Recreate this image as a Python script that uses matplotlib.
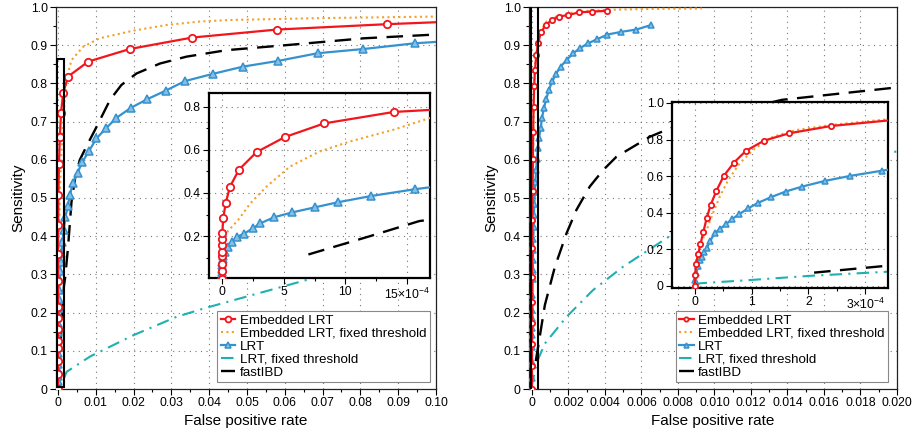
import matplotlib
matplotlib.use('Agg')
import matplotlib.pyplot as plt
from matplotlib.patches import Rectangle
from matplotlib.ticker import MultipleLocator, FixedLocator, FixedFormatter

plt.rcParams['font.family'] = ['Liberation Sans', 'DejaVu Sans']
plt.rcParams['mathtext.fontset'] = 'custom'
plt.rcParams['mathtext.rm'] = 'Liberation Sans'
plt.rcParams['mathtext.it'] = 'Liberation Sans:italic'

# ---------------- left panel data (false positive rate, sensitivity)
emb_x_a = [0, 0, 0, 0, 0.0000005, 0.000001, 0.000002, 0.000003, 0.00001, 0.00003, 0.000065,
           0.000138, 0.00028, 0.00051, 0.000827, 0.00139, 0.0027, 0.008, 0.019, 0.0355,
           0.058, 0.087, 0.12]
emb_y_a = [0, 0.04, 0.073, 0.108, 0.125, 0.158, 0.185, 0.214, 0.282, 0.353, 0.429,
           0.508, 0.589, 0.659, 0.722, 0.775, 0.818, 0.857, 0.890, 0.920,
           0.941, 0.955, 0.968]

fix_x_a = [0, 0.0000006, 0.0000024, 0.0000065, 0.00013, 0.00023, 0.00036, 0.00055,
           0.00079, 0.00104, 0.00139, 0.0017, 0.0023, 0.0036, 0.0067, 0.011, 0.0199,
           0.0288, 0.0376, 0.0455, 0.07, 0.1]
fix_y_a = [0, 0.04, 0.12, 0.197, 0.274, 0.352, 0.429, 0.522, 0.592, 0.639, 0.693, 0.750,
           0.813, 0.861, 0.896, 0.918, 0.938, 0.953, 0.962, 0.966, 0.971, 0.975]

lrt_x_a = [0, 0, 0.0000003, 0.0000006, 0.000001, 0.000002, 0.000004, 0.000007, 0.000012,
           0.000024, 0.000051, 0.000079, 0.000124, 0.00018, 0.00025, 0.00031, 0.00042,
           0.00057, 0.00075, 0.00094, 0.00121, 0.00156, 0.0020, 0.0026, 0.0032, 0.0039,
           0.0052, 0.0065, 0.0083, 0.0102, 0.0127, 0.0155, 0.0193, 0.0235, 0.0285, 0.0336,
           0.041, 0.049, 0.0583, 0.0687, 0.0808, 0.0944, 0.11]
lrt_y_a = [0, 0.01, 0.02, 0.035, 0.05, 0.065, 0.08, 0.095, 0.11,
           0.127, 0.150, 0.173, 0.197, 0.212, 0.236, 0.259, 0.287,
           0.310, 0.333, 0.357, 0.386, 0.417, 0.45, 0.479, 0.508, 0.538,
           0.566, 0.595, 0.624, 0.656, 0.682, 0.710, 0.736, 0.758, 0.781, 0.806,
           0.825, 0.844, 0.859, 0.879, 0.890, 0.905, 0.915]

tf_x_a = [0.0017, 0.0023, 0.0085, 0.02, 0.0314, 0.039, 0.0667, 0.1]
tf_y_a = [0.03, 0.045, 0.085, 0.141, 0.189, 0.212, 0.288, 0.365]

ibd_x_a = [0.0007, 0.0012, 0.0016, 0.0019, 0.0027, 0.0036, 0.0046, 0.0058, 0.0078, 0.0098,
           0.0138, 0.0168, 0.0208, 0.027, 0.034, 0.0446, 0.0614, 0.0808, 0.1]
ibd_y_a = [0.115, 0.20, 0.27, 0.29, 0.373, 0.49, 0.555, 0.60, 0.64, 0.678,
           0.757, 0.796, 0.826, 0.852, 0.870, 0.887, 0.901, 0.918, 0.928]

# ---------------- right panel data
emb_x_b = [0, 0.000001, 0.000002, 0.000006, 0.00001, 0.000015, 0.000021, 0.000028, 0.000038,
           0.000051, 0.000069, 0.00009, 0.000122, 0.000166, 0.00024, 0.00035, 0.00049,
           0.00077, 0.00108, 0.00149, 0.00199, 0.00259, 0.0033, 0.00414]
emb_y_b = [0, 0.06, 0.119, 0.173, 0.228, 0.293, 0.37, 0.443, 0.519,
           0.601, 0.674, 0.738, 0.794, 0.834, 0.874, 0.907, 0.934,
           0.953, 0.966, 0.975, 0.979, 0.986, 0.988, 0.990]

fix_x_b = [0, 0.000003, 0.000009, 0.000021, 0.000032, 0.000044, 0.000059, 0.000079, 0.000106,
           0.000138, 0.000179, 0.00024, 0.00034, 0.0005, 0.0008, 0.0012, 0.002, 0.003,
           0.0045, 0.0065, 0.0093]
fix_y_b = [0, 0.105, 0.215, 0.306, 0.397, 0.488, 0.579, 0.670, 0.752,
           0.816, 0.852, 0.880, 0.911, 0.94, 0.962, 0.973, 0.984, 0.99,
           0.993, 0.995, 0.996]

lrt_x_b = [0, 0.000001, 0.000003, 0.000006, 0.000009, 0.000012, 0.000016, 0.000021, 0.000027,
           0.000035, 0.000044, 0.000055, 0.000065, 0.000078, 0.000094, 0.000112, 0.000134,
           0.00016, 0.000189, 0.000229, 0.000273, 0.00033, 0.00038, 0.00048, 0.00055,
           0.00066, 0.00078, 0.00093, 0.00111, 0.00131, 0.00157, 0.0019, 0.00226, 0.00266,
           0.00308, 0.00354, 0.00414, 0.0049, 0.00572, 0.00654]
lrt_y_b = [0, 0.03, 0.07, 0.11, 0.142, 0.16, 0.185, 0.206, 0.245,
           0.288, 0.311, 0.337, 0.364, 0.392, 0.424, 0.455, 0.485,
           0.516, 0.543, 0.574, 0.601, 0.630, 0.656, 0.682, 0.709,
           0.736, 0.758, 0.783, 0.805, 0.824, 0.844, 0.861, 0.879, 0.893,
           0.905, 0.915, 0.928, 0.935, 0.941, 0.953]

tf_x_b = [0, 0.00001, 0.0001, 0.0002, 0.00034, 0.00071, 0.0019, 0.00335, 0.00499, 0.00681,
          0.0077, 0.0100, 0.0130, 0.0160, 0.0199, 0.021]
tf_y_b = [0.005, 0.015, 0.033, 0.055, 0.078, 0.119, 0.189, 0.259, 0.32, 0.377,
          0.405, 0.46, 0.52, 0.57, 0.621, 0.635]

ibd_x_b = [0.00021, 0.00034, 0.00071, 0.00126, 0.0019, 0.00244, 0.00317, 0.0039, 0.00463,
           0.00554, 0.00645, 0.00754, 0.0100, 0.0137, 0.0199, 0.021]
ibd_y_b = [0.073, 0.111, 0.22, 0.32, 0.408, 0.469, 0.530, 0.573, 0.608,
           0.634, 0.660, 0.682, 0.715, 0.757, 0.789, 0.793]

labels = ['Embedded LRT', 'Embedded LRT, fixed threshold', 'LRT', 'LRT, fixed threshold', 'fastIBD']

# tick positions / labels
sens_ticks = [i / 10 for i in range(11)]
sens_labels = ['0', '0.1', '0.2', '0.3', '0.4', '0.5', '0.6', '0.7', '0.8', '0.9', '1.0']
fpr_ticks_a = [i / 100 for i in range(11)]
fpr_labels_a = ['0', '0.01', '0.02', '0.03', '0.04', '0.05', '0.06', '0.07', '0.08', '0.09', '0.10']
fpr_ticks_b = [i / 500 for i in range(11)]
fpr_labels_b = ['0', '0.002', '0.004', '0.006', '0.008', '0.010', '0.012', '0.014', '0.016',
                '0.018', '0.020']

RED = '#f2161c'
ORANGE = '#f4a029'
BLUE = '#3592cf'
TEAL = '#1fb1b0'

W, H = 918, 434
fig = plt.figure(figsize=(W / 100, H / 100), dpi=100)


def box(l, t, r, b):
    # pixel box -> figure rect
    return [l / W, 1 - b / H, (r - l) / W, (b - t) / H]


def draw(ax, data, ms_o, ms_t):
    (ex, ey), (fx, fy), (lx, ly), (tx, ty), (bx, by) = data
    h = []
    h += ax.plot(ex, ey, color=RED, lw=1.6, marker='o', ms=ms_o, mfc='white', mec=RED, mew=1.3, zorder=5)
    h += ax.plot(fx, fy, color=ORANGE, lw=1.5, ls=(0, (1, 1.6)), zorder=4)
    h += ax.plot(lx, ly, color=BLUE, lw=1.6, marker='^', ms=ms_t, mfc='#86bfe6', mec=BLUE, mew=1.1, zorder=3)
    h += ax.plot(tx, ty, color=TEAL, lw=1.5, ls=(0, (6, 3, 1, 3)), zorder=2)
    h += ax.plot(bx, by, color='black', lw=1.7, ls=(0, (7, 4)), zorder=2)
    return h


def style(ax, lw=0.9):
    ax.grid(True, which='major', color='#777777', lw=0.8, ls=(0, (1, 4)))
    ax.tick_params(which='both', direction='out', top=False, right=False, labelsize=8.8, pad=2, width=0.8)
    ax.tick_params(which='major', length=4)
    ax.tick_params(which='minor', length=2.5)
    for s in ax.spines.values():
        s.set_linewidth(lw)
        s.set_color('#222222')


panels = [
    dict(main=box(56, 7, 436, 389), inset=box(209, 93, 430, 278),
         xlim=(-0.0005, 0.1), inlim=(-0.000105, 0.001685), inylim=(0.006, 0.863),
         xt=fpr_ticks_a, xl=fpr_labels_a, xmin=0.005,
         inxt=[0, 0.0005, 0.001, 0.0015], inxl=['0', '5', '10', '15×10$^{-4}$'], inxmin=0.00025,
         inyt=[0.2, 0.4, 0.6, 0.8], inyl=['0.2', '0.4', '0.6', '0.8'],
         data=[(emb_x_a, emb_y_a), (fix_x_a, fix_y_a), (lrt_x_a, lrt_y_a), (tf_x_a, tf_y_a), (ibd_x_a, ibd_y_a)],
         ms=(5.3, 5.6), leg=430),
    dict(main=box(529, 7, 897, 389), inset=box(672, 102, 888, 288),
         xlim=(-0.00016, 0.02), inlim=(-0.00004, 0.00034), inylim=(-0.011, 1.005),
         xt=fpr_ticks_b, xl=fpr_labels_b, xmin=0.001,
         inxt=[0, 0.0001, 0.0002, 0.0003], inxl=['0', '1', '2', '3×10$^{-4}$'], inxmin=0.00005,
         inyt=[0, 0.2, 0.4, 0.6, 0.8, 1.0], inyl=['0', '0.2', '0.4', '0.6', '0.8', '1.0'],
         data=[(emb_x_b, emb_y_b), (fix_x_b, fix_y_b), (lrt_x_b, lrt_y_b), (tf_x_b, tf_y_b), (ibd_x_b, ibd_y_b)],
         ms=(3.8, 4.4), leg=888),
]

for p in panels:
    ax = fig.add_axes(p['main'])
    handles = draw(ax, p['data'], *p['ms'])
    ax.set_xlim(*p['xlim'])
    ax.set_ylim(0, 1)
    ax.xaxis.set_major_locator(FixedLocator(p['xt']))
    ax.xaxis.set_major_formatter(FixedFormatter(p['xl']))
    ax.xaxis.set_minor_locator(MultipleLocator(p['xmin']))
    ax.yaxis.set_major_locator(FixedLocator(sens_ticks))
    ax.yaxis.set_major_formatter(FixedFormatter(sens_labels))
    ax.yaxis.set_minor_locator(MultipleLocator(0.05))
    style(ax)
    ax.set_xlabel('False positive rate', fontsize=11, labelpad=3)
    ax.set_ylabel('Sensitivity', fontsize=11, labelpad=4)
    ax.add_patch(Rectangle((p['inlim'][0], p['inylim'][0]), p['inlim'][1] - p['inlim'][0],
                           p['inylim'][1] - p['inylim'][0], fill=False, ec='black', lw=1.5, zorder=6))
    leg = ax.legend(handles, labels, loc='lower right', bbox_to_anchor=(p['leg'] / W, 1 - 382 / H),
                    bbox_transform=fig.transFigure, borderaxespad=0, fancybox=False, framealpha=1,
                    edgecolor='#888888', fontsize=9.6, labelspacing=0.05, handlelength=1.1,
                    handletextpad=0.35, borderpad=0.25, numpoints=1, markerscale=0.8)
    leg.get_frame().set_linewidth(0.8)
    leg.set_zorder(10)

    ins = fig.add_axes(p['inset'])
    draw(ins, p['data'], *p['ms'])
    ins.set_xlim(*p['inlim'])
    ins.set_ylim(*p['inylim'])
    ins.xaxis.set_major_locator(FixedLocator(p['inxt']))
    ins.xaxis.set_major_formatter(FixedFormatter(p['inxl']))
    ins.xaxis.set_minor_locator(MultipleLocator(p['inxmin']))
    ins.yaxis.set_major_locator(FixedLocator(p['inyt']))
    ins.yaxis.set_major_formatter(FixedFormatter(p['inyl']))
    ins.yaxis.set_minor_locator(MultipleLocator(0.1))
    style(ins, lw=1.6)
    for s in ins.spines.values():
        s.set_color('black')

fig.savefig('out.png', dpi=100)
